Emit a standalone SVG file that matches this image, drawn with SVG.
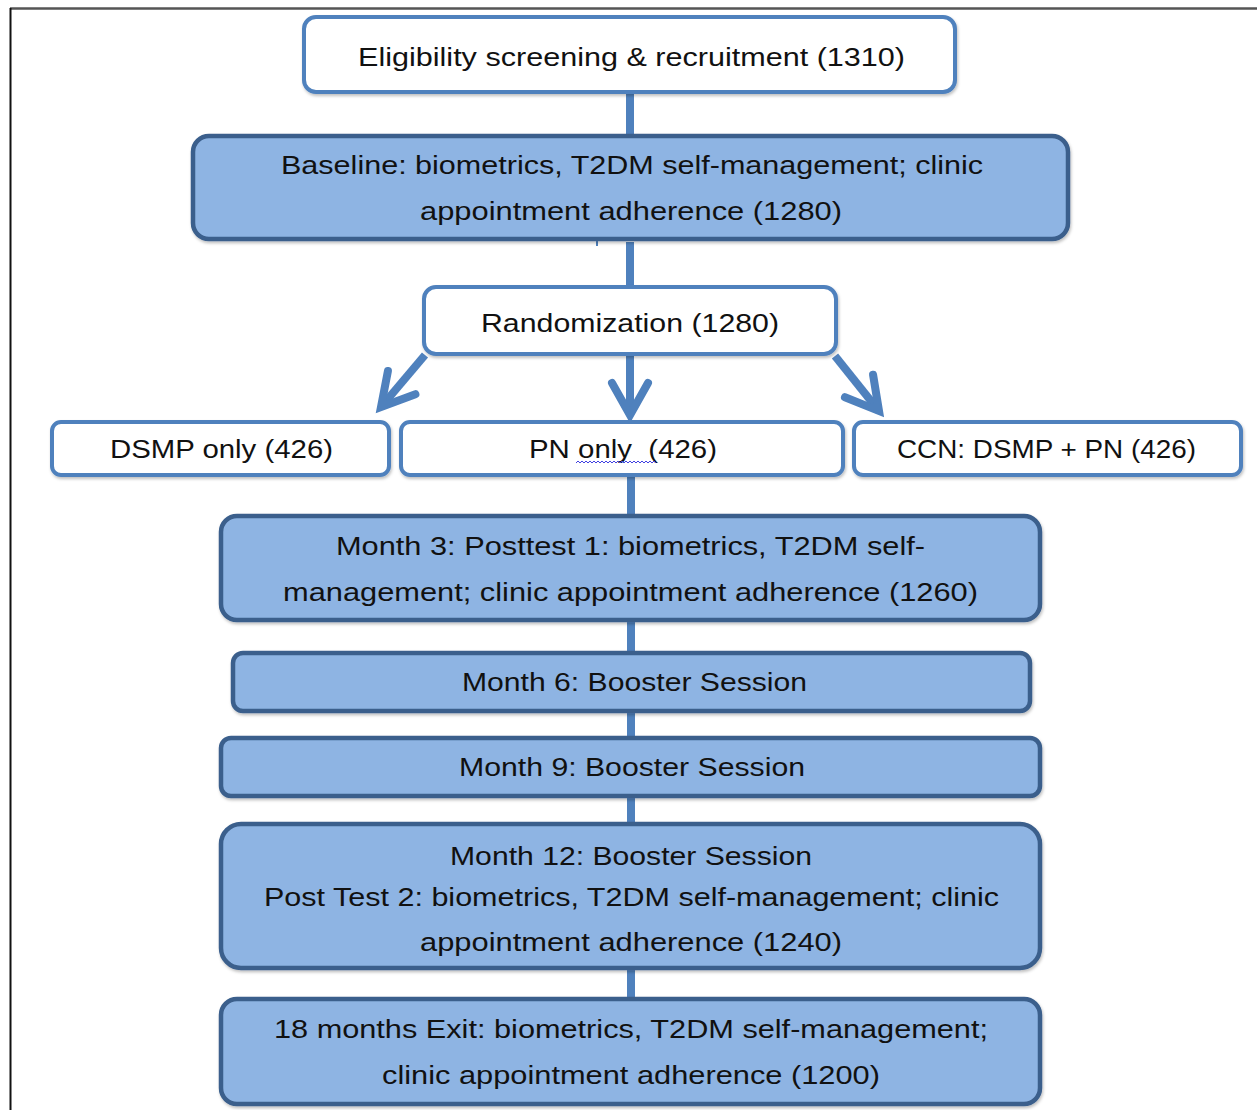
<svg xmlns="http://www.w3.org/2000/svg" width="1257" height="1110" viewBox="0 0 1257 1110">
<style>
.w{fill:#ffffff;stroke:#4F81BD;stroke-width:4}
.b{fill:#8EB4E3;stroke:#3B5F8C;stroke-width:4.5}
.t{font-family:"Liberation Sans",Arial,sans-serif;font-size:26px;fill:#111;text-anchor:middle;white-space:pre}
.c{stroke:#4F81BD;stroke-width:8;fill:none}
</style>
<defs>
<filter id="sh" x="-5%" y="-10%" width="110%" height="130%">
<feDropShadow dx="1" dy="2" stdDeviation="1.5" flood-color="#000" flood-opacity="0.25"/>
</filter>
<marker id="chev" markerUnits="userSpaceOnUse" viewBox="-40 -25 46 50" refX="0" refY="0" markerWidth="46" markerHeight="50" orient="auto" overflow="visible">
<path d="M-32,-18 L0,0 L-32,18" fill="none" stroke="#4F81BD" stroke-width="8" stroke-linecap="round" stroke-linejoin="miter"/>
</marker>
</defs>
<rect width="1257" height="1110" fill="#fff"/>
<g id="frame">
<line x1="10" y1="8.5" x2="1257" y2="8.5" stroke="#555" stroke-width="2.5"/>
<line x1="10.5" y1="8" x2="10.5" y2="1110" stroke="#111" stroke-width="2"/>
</g>
<g id="connectors">
<line class="c" x1="630" y1="92" x2="630" y2="137"/>
<line class="c" x1="630" y1="242" x2="630" y2="285"/>
<line x1="597" y1="240" x2="597" y2="246" stroke="#4F81BD" stroke-width="2"/>
<line class="c" x1="630" y1="356" x2="630" y2="415" marker-end="url(#chev)"/>
<line class="c" x1="425" y1="355" x2="381" y2="407" marker-end="url(#chev)"/>
<line class="c" x1="835" y1="356" x2="879" y2="411" marker-end="url(#chev)"/>
<line class="c" x1="631" y1="477" x2="631" y2="515"/>
<line class="c" x1="631" y1="621" x2="631" y2="653"/>
<line class="c" x1="631" y1="712" x2="631" y2="738"/>
<line class="c" x1="631" y1="797" x2="631" y2="824"/>
<line class="c" x1="631" y1="969" x2="631" y2="999"/>
</g>
<g id="n1">
<rect class="w" x="304" y="17" width="651" height="75" rx="12" filter="url(#sh)"/>
<text class="t" x="631.5" y="66" textLength="547" lengthAdjust="spacingAndGlyphs">Eligibility screening &amp; recruitment (1310)</text>
</g>
<g id="n2">
<rect class="b" x="193" y="136" width="875" height="103" rx="16" filter="url(#sh)"/>
<text class="t" x="632" y="174" textLength="702" lengthAdjust="spacingAndGlyphs">Baseline: biometrics, T2DM self-management; clinic</text>
<text class="t" x="631" y="220" textLength="422" lengthAdjust="spacingAndGlyphs">appointment adherence (1280)</text>
</g>
<g id="n3">
<rect class="w" x="424" y="287" width="412" height="67" rx="12" filter="url(#sh)"/>
<text class="t" x="630" y="332" textLength="298" lengthAdjust="spacingAndGlyphs">Randomization (1280)</text>
</g>
<g id="n4">
<rect class="w" x="52" y="422" width="337" height="53" rx="9" filter="url(#sh)"/>
<text class="t" x="221.5" y="458" textLength="223" lengthAdjust="spacingAndGlyphs">DSMP only (426)</text>
</g>
<g id="n5">
<rect class="w" x="401" y="422" width="442" height="53" rx="9" filter="url(#sh)"/>
<text class="t" x="623" y="458" textLength="188" lengthAdjust="spacingAndGlyphs">PN only  (426)</text>
<path d="M576,463 l2,-2 l2,2 l2,-2 l2,2 l2,-2 l2,2 l2,-2 l2,2 l2,-2 l2,2 l2,-2 l2,2 l2,-2 l2,2 l2,-2 l2,2 l2,-2 l2,2 l2,-2 l2,2 l2,-2 l2,2 l2,-2 l2,2 l2,-2 l2,2 l2,-2 l2,2 l2,-2 l2,2 l2,-2 l2,2 l2,-2 l2,2 l2,-2 l2,2 l2,-2 l2,2 l2,-2 l2,2" fill="none" stroke="#4040E0" stroke-width="1"/>
</g>
<g id="n6">
<rect class="w" x="854" y="422" width="387" height="53" rx="9" filter="url(#sh)"/>
<text class="t" x="1046.5" y="458" textLength="299" lengthAdjust="spacingAndGlyphs">CCN: DSMP + PN (426)</text>
</g>
<g id="n7">
<rect class="b" x="221" y="516" width="819" height="104" rx="16" filter="url(#sh)"/>
<text class="t" x="630.5" y="555" textLength="589" lengthAdjust="spacingAndGlyphs">Month 3: Posttest 1: biometrics, T2DM self-</text>
<text class="t" x="630.5" y="601" textLength="695" lengthAdjust="spacingAndGlyphs">management; clinic appointment adherence (1260)</text>
</g>
<g id="n8">
<rect class="b" x="233" y="653" width="797" height="58" rx="10" filter="url(#sh)"/>
<text class="t" x="634.5" y="691" textLength="345" lengthAdjust="spacingAndGlyphs">Month 6: Booster Session</text>
</g>
<g id="n9">
<rect class="b" x="221" y="738" width="819" height="58" rx="10" filter="url(#sh)"/>
<text class="t" x="632" y="776" textLength="346" lengthAdjust="spacingAndGlyphs">Month 9: Booster Session</text>
</g>
<g id="n10">
<rect class="b" x="221" y="824" width="819" height="144" rx="20" filter="url(#sh)"/>
<text class="t" x="631" y="865" textLength="362" lengthAdjust="spacingAndGlyphs">Month 12: Booster Session</text>
<text class="t" x="631.5" y="906" textLength="735" lengthAdjust="spacingAndGlyphs">Post Test 2: biometrics, T2DM self-management; clinic</text>
<text class="t" x="631" y="951" textLength="422" lengthAdjust="spacingAndGlyphs">appointment adherence (1240)</text>
</g>
<g id="n11">
<rect class="b" x="221" y="999" width="819" height="105" rx="16" filter="url(#sh)"/>
<text class="t" x="631" y="1038" textLength="714" lengthAdjust="spacingAndGlyphs">18 months Exit: biometrics, T2DM self-management;</text>
<text class="t" x="631" y="1084" textLength="498" lengthAdjust="spacingAndGlyphs">clinic appointment adherence (1200)</text>
</g>
</svg>
